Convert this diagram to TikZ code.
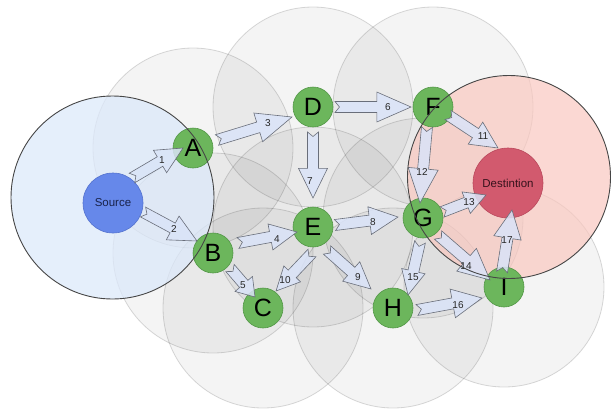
\documentclass[tikz,border=0pt]{standalone}
\usepackage{fontspec}
\setmainfont{Liberation Sans}
\usetikzlibrary{calc}
\pgfdeclarelayer{bg}
\pgfdeclarelayer{fg}
\pgfsetlayers{bg,main,fg}
\definecolor{nodegreen}{RGB}{108,182,92}
\definecolor{nodegreenD}{RGB}{82,150,70}
\definecolor{srcblue}{RGB}{102,136,234}
\definecolor{srcblueD}{RGB}{84,114,206}
\definecolor{dstred}{RGB}{210,90,110}
\definecolor{dstredD}{RGB}{185,72,92}
\definecolor{arrfill}{RGB}{218,228,248}
\definecolor{arrdraw}{RGB}{105,110,122}
\definecolor{bluezone}{RGB}{220,233,250}
\definecolor{pinkzone}{RGB}{250,200,192}
\definecolor{ringdark}{RGB}{70,70,70}
\tikzset{
  relay/.style={circle, fill=nodegreen, draw=nodegreenD, line width=0.6pt,
    minimum size=40pt, inner sep=0pt, font=\fontsize{25}{25}\selectfont},
  srcnode/.style={circle, fill=srcblue, draw=srcblueD, line width=0.6pt,
    minimum size=60pt, inner sep=0pt, text={rgb,255:red,25;green,35;blue,75},
    font=\fontsize{11.5}{12}\selectfont},
  dstnode/.style={circle, fill=dstred, draw=dstredD, line width=0.6pt,
    minimum size=70pt, inner sep=0pt, text={rgb,255:red,55;green,18;blue,28},
    font=\fontsize{11.5}{12}\selectfont},
  fatarr/.style={fill=arrfill, fill opacity=0.85, draw=arrdraw, line width=0.6pt, line join=miter},
  elabel/.style={inner sep=0pt, font=\fontsize{10}{10}\selectfont, text=black!85},
  cover/.style={fill=black, fill opacity=0.045, draw=black, draw opacity=0.15, line width=0.8pt},
  ring/.style={draw=ringdark, line width=0.9pt}
}
\newcommand\fatarrow[4]{%
  \path #1; \pgfgetlastxy{\fxa}{\fya}%
  \path #2; \pgfgetlastxy{\fxb}{\fyb}%
  \pgfmathsetmacro\fdx{\fxb-(\fxa)}%
  \pgfmathsetmacro\fdy{\fyb-(\fya)}%
  \pgfmathsetmacro\fang{atan2(\fdy,\fdx)}%
  \pgfmathsetmacro\flen{veclen(\fdx,\fdy)}%
  \pgfmathsetmacro\fhl{max(17,0.45*\flen)}%
  \pgfmathsetmacro\fhb{\flen-\fhl}%
  \pgfmathsetmacro\fhw{min(15,max(11.5,0.22*\flen))}%
  \begin{scope}[shift={(\fxa,\fya)}, rotate=\fang]
    \filldraw[fatarr] (0pt,5.5pt) -- (\fhb pt,5.5pt) -- (\fhb pt,\fhw pt) -- (\flen pt,0pt)
      -- (\fhb pt,-\fhw pt) -- (\fhb pt,-5.5pt) -- (0pt,-5.5pt) -- (4.5pt,0pt) -- cycle;
  \end{scope}
  \node[elabel] (lab#4) at #3 {#4};
}
\begin{document}
\begin{tikzpicture}[x=1pt,y=-1pt]
\useasboundingbox (0,0) rectangle (616,408);
% nodes
\node[srcnode] (S) at (113,203) {Source};
\node[relay] (A) at (193,148) {A};
\node[relay] (B) at (213,253) {B};
\node[relay] (C) at (263,308) {C};
\node[relay] (D) at (313,107) {D};
\node[relay] (E) at (313,227) {E};
\node[relay] (F) at (433,107) {F};
\node[relay] (G) at (423,218) {G};
\node[relay] (H) at (393,308) {H};
\node[relay] (I) at (504,287) {I};
\node[dstnode] (T) at (508,183) {Destintion};
\coordinate (srczone) at (112.5,197.5);
\coordinate (dstzone) at (509,177);
% coverage areas
\begin{pgfonlayer}{bg}
  \foreach \n in {A,B,C,D,E,F,G,H,I}
    \path[cover] (\n) circle[radius=100];
  \fill[bluezone, fill opacity=0.75] (srczone) circle[radius=101.5];
  \fill[pinkzone, fill opacity=0.7] (dstzone) circle[radius=101.5];
\end{pgfonlayer}
% arrows
\fatarrow{($(S)+(19,-25)$)}{($(A)+(-10,0)$)}{(162,160)}{1}
\fatarrow{($(S)+(30,9)$)}{($(B)+(-16,-12)$)}{(174,229)}{2}
\fatarrow{($(A)+(24,-8)$)}{($(D)+(-21,10)$)}{(268,123)}{3}
\fatarrow{($(B)+(25,-10)$)}{($(E)+(-16,5)$)}{(277,239)}{4}
\fatarrow{($(B)+(17,15)$)}{($(C)+(-8,-11)$)}{(243,285)}{5}
\fatarrow{($(D)+(22,0)$)}{($(F)+(-22,0)$)}{(388,107)}{6}
\fatarrow{($(D)+(0,25)$)}{($(E)+(0,-29)$)}{(310,181)}{7}
\fatarrow{($(E)+(22,-2)$)}{($(G)+(-25,-1)$)}{(373,222)}{8}
\fatarrow{($(E)+(14,23)$)}{($(H)+(-22,-19)$)}{(358,277)}{9}
\fatarrow{($(E)+(-1,26)$)}{($(C)+(13,-17)$)}{(285,280)}{10}
\fatarrow{($(F)+(15,8)$)}{($(T)+(-10,-35)$)}{(483,136)}{11}
\fatarrow{($(F)+(-6,20)$)}{($(G)+(-3,-15)$)}{(422,172)}{12}
\fatarrow{($(G)+(19,-6)$)}{($(T)+(-22,12)$)}{(469,202)}{13}
\fatarrow{($(G)+(15,17)$)}{($(I)+(-14,-7)$)}{(466,266)}{14}
\fatarrow{($(G)+(-3,24)$)}{($(H)+(15,-13)$)}{(413,277)}{15}
\fatarrow{($(H)+(24,2)$)}{($(I)+(-22,11)$)}{(458,305)}{16}
\fatarrow{($(I)+(-2,-15)$)}{($(T)+(4,27)$)}{(507,240)}{17}
% zone borders
\begin{pgfonlayer}{fg}
  \draw[ring] (srczone) circle[radius=101.5];
  \draw[ring] (dstzone) circle[radius=101.5];
\end{pgfonlayer}
\end{tikzpicture}
\end{document}
